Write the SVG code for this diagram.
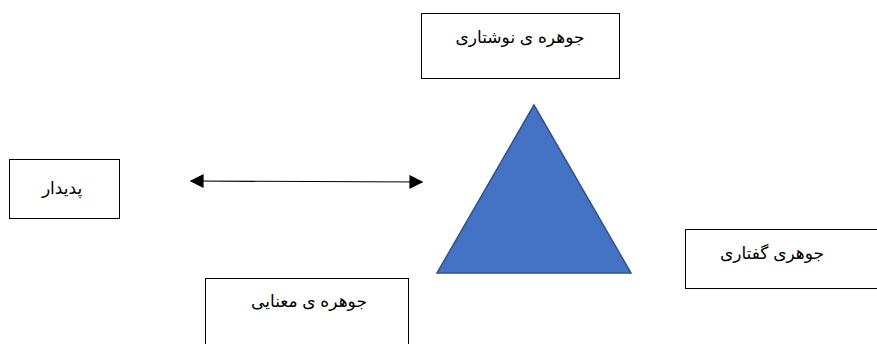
<svg xmlns="http://www.w3.org/2000/svg" width="877" height="344" viewBox="0 0 877 344">
<style>
.box{fill:#fff;stroke:#000;stroke-width:1}
.lbl{font-family:"Liberation Sans","DejaVu Sans",Arial,sans-serif;font-size:17px;fill:#000;text-anchor:middle;direction:rtl}
</style>
<defs>
<marker id="ah" viewBox="0 0 10 10" refX="9" refY="5" markerWidth="15" markerHeight="14" orient="auto-start-reverse" markerUnits="userSpaceOnUse">
<path d="M0,0 L10,5 L0,10 z" fill="#000"/>
</marker>
</defs>
<rect width="877" height="344" fill="#fff"/>
<g id="connectors">
<line x1="191" y1="181" x2="422" y2="182" stroke="#000" stroke-width="1.2" marker-start="url(#ah)" marker-end="url(#ah)"/>
</g>
<g id="triangle">
<polygon points="534,105 437,273 631,273" fill="#4472C4" stroke="#2F528F" stroke-width="1.5"/>
</g>
<g id="node-neveshtari">
<rect class="box" x="421.5" y="13.5" width="198" height="65"/>
<text class="lbl" x="520" y="43">جوهره ی نوشتاری</text>
</g>
<g id="node-padidar">
<rect class="box" x="9.5" y="159.5" width="110" height="59"/>
<text class="lbl" x="62" y="194">پدیدار</text>
</g>
<g id="node-goftari">
<rect class="box" x="685.5" y="229.5" width="200" height="59"/>
<text class="lbl" x="772" y="259">جوهری گفتاری</text>
</g>
<g id="node-manayi">
<rect class="box" x="205.5" y="278.5" width="203" height="80"/>
<text class="lbl" x="309" y="307">جوهره ی معنایی</text>
</g>
</svg>
